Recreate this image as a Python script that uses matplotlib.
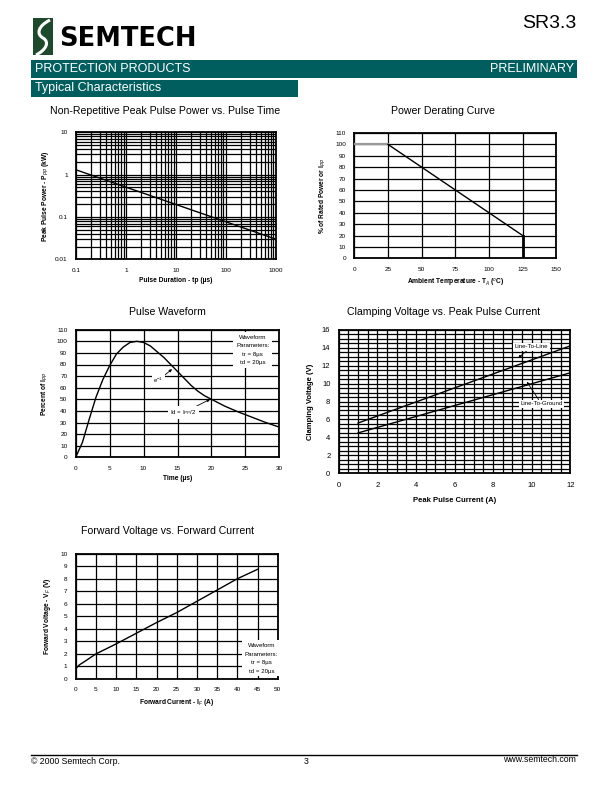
import matplotlib
matplotlib.use("Agg")
import matplotlib.pyplot as plt
from matplotlib.patches import Rectangle, PathPatch
from matplotlib.path import Path
from matplotlib.lines import Line2D
from matplotlib.ticker import NullFormatter

plt.rcParams['font.family'] = ['Liberation Sans', 'DejaVu Sans']
plt.rcParams['mathtext.fontset'] = 'custom'
plt.rcParams['mathtext.rm'] = 'Liberation Sans'
plt.rcParams['mathtext.it'] = 'Liberation Sans:italic'
plt.rcParams['mathtext.bf'] = 'Liberation Sans:bold'

NARROW = ['Liberation Sans Narrow', 'Liberation Sans', 'DejaVu Sans']
TEAL = '#005e5e'

# ---------------- data ----------------
# Chart 1: Non-repetitive peak pulse power vs pulse time
pulse_time_us = [0.1, 1000]
peak_power_kw = [1.3, 0.03]

# Chart 2: Power derating curve
derate_flat_temp = [0, 25]
derate_flat_pct = [100, 100]
derate_slope_temp = [25, 125]
derate_slope_pct = [100, 20]
derate_drop_temp = [125, 125]
derate_drop_pct = [20, 0]

# Chart 3: Pulse waveform
wave_t = [0, 1, 2, 3, 4, 5, 6, 7, 8, 9, 10, 11, 12, 13, 14, 15, 16, 17, 18, 19,
          20, 22, 24, 26, 28, 30]
wave_pct = [0, 13, 33, 52, 67, 79, 89, 95, 99, 100, 99, 96, 91, 86, 80, 74, 68,
            62, 57, 53, 50, 44, 39, 34.5, 30, 26]

# Chart 4: Clamping voltage vs peak pulse current
clamp_current = [1, 12]
clamp_line_to_line = [5.6, 14.2]
clamp_line_to_ground = [4.5, 11.2]

# Chart 5: Forward voltage vs forward current
fwd_current = [0, 0.5, 1, 2, 5, 10, 15, 20, 25, 30, 35, 40, 45]
fwd_voltage = [0.8, 1.0, 1.15, 1.35, 2.0, 2.8, 3.65, 4.5, 5.3, 6.2, 7.1, 8.0, 8.75]

W, H = 612, 792
fig = plt.figure(figsize=(W / 100, H / 100), dpi=100)


def fx(x):
    return x / W


def fy(y):
    return 1 - y / H


def ax_at(l, t, r, b):
    return fig.add_axes([l / W, 1 - b / H, (r - l) / W, (b - t) / H])


def style_ax(ax, ts=4.6, lw=1.3):
    for s in ax.spines.values():
        s.set_linewidth(lw)
        s.set_color('black')
    ax.tick_params(which='both', length=0, labelsize=ts, pad=6)
    ax.set_axisbelow(True)


GRID = dict(color='black', linewidth=0.9)

# ---------------- header ----------------
fig.patches.append(Rectangle((fx(33), fy(55)), fx(20), 37 / H,
                             transform=fig.transFigure, facecolor='#1e4a2c',
                             edgecolor='none'))
verts = [(50, 20), (38, 26), (36, 34), (43, 38), (50, 42), (46, 50), (36, 55)]
codes = [Path.MOVETO, Path.CURVE4, Path.CURVE4, Path.CURVE4, Path.CURVE4,
         Path.CURVE4, Path.CURVE4]
sp = Path([(fx(a), fy(b)) for a, b in verts], codes)
fig.patches.append(PathPatch(sp, transform=fig.transFigure, facecolor='none',
                             edgecolor='white', linewidth=2.2))
fig.text(fx(59), fy(38.5), 'SEMTECH', fontsize=18.5, fontweight='heavy',
         family='DejaVu Sans', va='center', ha='left', color='black')
fig.text(fx(576), fy(23), 'SR3.3', fontsize=14, family=NARROW,
         va='center', ha='right')

fig.patches.append(Rectangle((fx(31), fy(78)), fx(546), 18 / H,
                             transform=fig.transFigure, facecolor=TEAL,
                             edgecolor='none'))
fig.text(fx(35), fy(69), 'PROTECTION PRODUCTS', fontsize=9, family=NARROW,
         color='white', va='center', ha='left')
fig.text(fx(574), fy(69), 'PRELIMINARY', fontsize=9, family=NARROW,
         color='white', va='center', ha='right')
fig.patches.append(Rectangle((fx(31), fy(97)), fx(267), 17 / H,
                             transform=fig.transFigure, facecolor=TEAL,
                             edgecolor='none'))
fig.text(fx(35), fy(88.5), 'Typical Characteristics', fontsize=9,
         family=NARROW, color='white', va='center', ha='left')

# ---------------- chart 1 ----------------
TS = 7.6
fig.text(fx(165.5), fy(110.5), 'Non-Repetitive Peak Pulse Power vs. Pulse Time',
         fontsize=TS, ha='center', va='center')
ax1 = ax_at(76, 132.3, 275.7, 259.3)
ax1.plot(pulse_time_us, peak_power_kw, color='black', linewidth=1.0)
ax1.set_xscale('log')
ax1.set_yscale('log')
ax1.set_xlim(0.1, 1000)
ax1.set_ylim(0.01, 10)
ax1.set_xticks([0.1, 1, 10, 100, 1000])
ax1.set_xticklabels(['0.1', '1', '10', '100', '1000'])
ax1.set_yticks([0.01, 0.1, 1, 10])
ax1.set_yticklabels(['0.01', '0.1', '1', '10'])
ax1.xaxis.set_minor_formatter(NullFormatter())
ax1.yaxis.set_minor_formatter(NullFormatter())
ax1.grid(True, which='both', **GRID)
style_ax(ax1)
ax1.set_xlabel('Pulse Duration - tp (µs)', fontsize=4.8, fontweight='bold',
               labelpad=3)
ax1.set_ylabel('Peak Pulse Power - P$_{PP}$ (kW)', fontsize=4.8,
               fontweight='bold', labelpad=3)

# ---------------- chart 2 ----------------
fig.text(fx(443.3), fy(111), 'Power Derating Curve', fontsize=TS,
         ha='center', va='center')
ax2 = ax_at(354.3, 133, 556.3, 258.3)
ax2.plot(derate_flat_temp, derate_flat_pct, color='#9a9a9a', linewidth=1.6,
         zorder=3)
ax2.plot(derate_slope_temp, derate_slope_pct, color='black', linewidth=1.0,
         zorder=3)
ax2.plot(derate_drop_temp, derate_drop_pct, color='black', linewidth=2.0,
         zorder=3)
ax2.set_xlim(0, 150)
ax2.set_ylim(0, 110)
ax2.set_xticks([0, 25, 50, 75, 100, 125, 150])
ax2.set_yticks(list(range(0, 111, 10)))
ax2.grid(True, **GRID)
style_ax(ax2)
ax2.set_xlabel('Ambient Temperature - T$_A$ ($^o$C)', fontsize=4.8,
               fontweight='bold', labelpad=4)
ax2.set_ylabel('% of Rated Power or I$_{PP}$', fontsize=4.8,
               fontweight='bold', labelpad=5)

# ---------------- chart 3 ----------------
fig.text(fx(167.5), fy(311.5), 'Pulse Waveform', fontsize=TS,
         ha='center', va='center')
ax3 = ax_at(75.7, 329.7, 279.3, 457.3)
ax3.plot(wave_t, wave_pct, color='black', linewidth=1.0, zorder=3)
ax3.set_xlim(0, 30)
ax3.set_ylim(0, 110)
ax3.set_xticks([0, 5, 10, 15, 20, 25, 30])
ax3.set_yticks(list(range(0, 111, 10)))
ax3.grid(True, **GRID)
style_ax(ax3)
ax3.set_xlabel('Time (µs)', fontsize=4.8, fontweight='bold', labelpad=3)
ax3.set_ylabel('Percent of I$_{PP}$', fontsize=4.8, fontweight='bold',
               labelpad=5)
ax3.text(26.1, 92.5, 'Waveform\nParameters:\ntr = 8µs\ntd = 20µs',
         fontsize=4.4, ha='center', va='center', linespacing=1.9, zorder=5,
         bbox=dict(facecolor='white', edgecolor='none', pad=2.0))
ARW = dict(arrowstyle='-|>', color='black', linewidth=0.6, mutation_scale=4,
           shrinkA=0, shrinkB=0)
ax3.annotate('e$^{-1}$', xy=(14.2, 76), xytext=(12.2, 66.5), fontsize=4.4,
             ha='center', va='center', arrowprops=ARW, zorder=5,
             bbox=dict(facecolor='white', edgecolor='none', pad=0.8))
ax3.annotate('Id = I$_{PP}$/2', xy=(19.8, 50), xytext=(15.9, 38.5),
             fontsize=4.4, ha='center', va='center', arrowprops=ARW, zorder=5,
             bbox=dict(facecolor='white', edgecolor='none', pad=1.5))

# ---------------- chart 4 ----------------
fig.text(fx(443.3), fy(311.5), 'Clamping Voltage vs. Peak Pulse Current',
         fontsize=TS, ha='center', va='center')
ax4 = ax_at(338.7, 329.7, 570.3, 473.3)
ax4.plot(clamp_current, clamp_line_to_line, color='black', linewidth=1.0,
         zorder=3)
ax4.plot(clamp_current, clamp_line_to_ground, color='black', linewidth=1.0,
         zorder=3)
ax4.set_xlim(0, 12)
ax4.set_ylim(0, 16)
ax4.set_xticks(list(range(0, 13, 2)))
ax4.set_yticks(list(range(0, 17, 2)))
ax4.set_xticks([i * 0.5 for i in range(25)], minor=True)
ax4.set_yticks([i * 0.5 for i in range(33)], minor=True)
ax4.grid(True, which='both', **GRID)
style_ax(ax4, ts=5.5)
ax4.set_xlabel('Peak Pulse Current (A)', fontsize=5.5, fontweight='bold',
               labelpad=6)
ax4.set_ylabel('Clamping Voltage (V)', fontsize=5.5, fontweight='bold',
               labelpad=6)
ax4.annotate('Line-To-Line', xy=(9.3, 12.85), xytext=(10.0, 14.1),
             fontsize=4.4, ha='center', va='center', arrowprops=ARW, zorder=5,
             bbox=dict(facecolor='white', edgecolor='none', pad=1.2))
ax4.annotate('Line-To-Ground', xy=(9.75, 10.2), xytext=(10.5, 7.75),
             fontsize=4.4, ha='center', va='center', arrowprops=ARW, zorder=5,
             bbox=dict(facecolor='white', edgecolor='none', pad=1.2))

# ---------------- chart 5 ----------------
fig.text(fx(167.5), fy(531), 'Forward Voltage vs. Forward Current',
         fontsize=TS, ha='center', va='center')
ax5 = ax_at(75.7, 553.7, 277.7, 679)
ax5.plot(fwd_current, fwd_voltage, color='black', linewidth=1.0, zorder=3)
ax5.set_xlim(0, 50)
ax5.set_ylim(0, 10)
ax5.set_xticks(list(range(0, 51, 5)))
ax5.set_yticks(list(range(0, 11, 1)))
ax5.grid(True, **GRID)
style_ax(ax5)
ax5.set_xlabel('Forward Current - I$_F$ (A)', fontsize=4.8, fontweight='bold',
               labelpad=3)
ax5.set_ylabel('Forward Voltage - V$_F$ (V)', fontsize=4.8, fontweight='bold',
               labelpad=5)
ax5.text(46, 1.65, 'Waveform\nParameters:\ntr = 8µs\ntd = 20µs',
         fontsize=4.4, ha='center', va='center', linespacing=1.9, zorder=5,
         bbox=dict(facecolor='white', edgecolor='none', pad=2.0))

# ---------------- footer ----------------
fig.add_artist(Line2D([fx(31), fx(577)], [fy(755), fy(755)],
                      transform=fig.transFigure, color='black', linewidth=1.0))
fig.text(fx(31), fy(762), '© 2000 Semtech Corp.', fontsize=6.3, ha='left',
         va='center')
fig.text(fx(306), fy(762), '3', fontsize=6.3, ha='center', va='center')
fig.text(fx(576), fy(759.5), 'www.semtech.com', fontsize=6.3, ha='right',
         va='center')

fig.savefig('out.png', dpi=100)
